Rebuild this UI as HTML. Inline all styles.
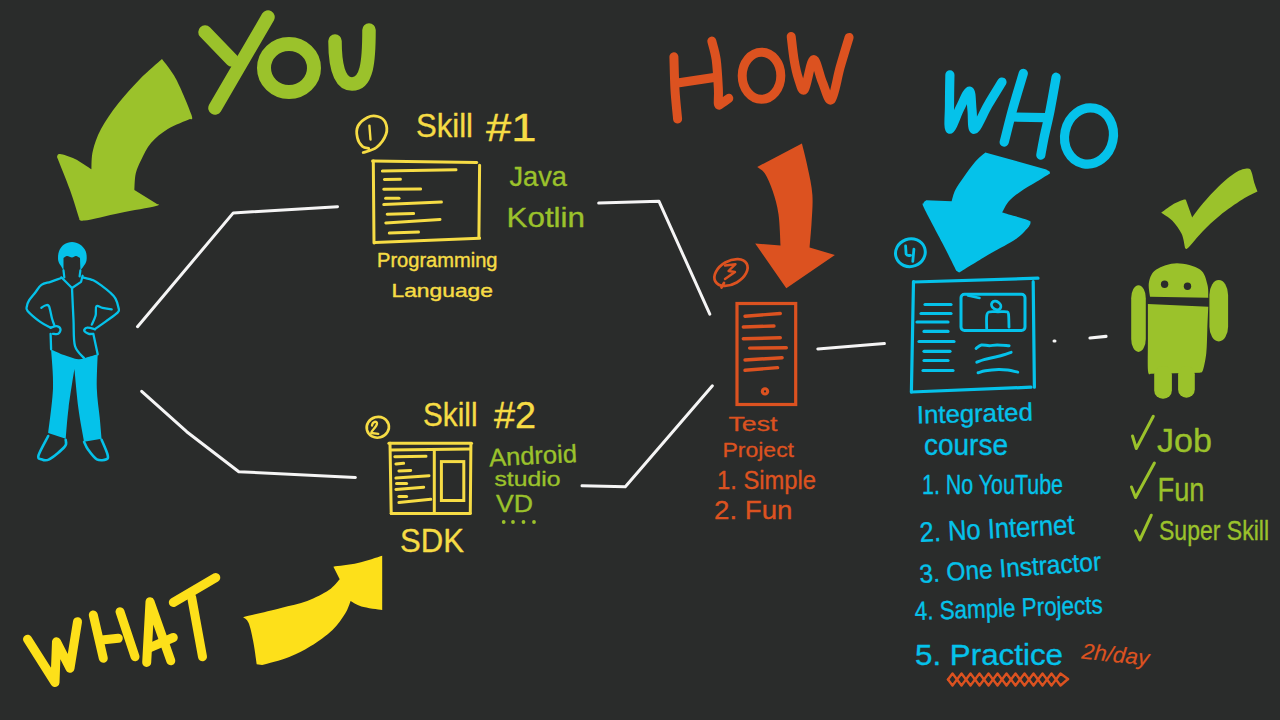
<!DOCTYPE html>
<html><head><meta charset="utf-8"><style>
html,body{margin:0;padding:0;background:#2a2c2b;width:1280px;height:720px;overflow:hidden}
svg{display:block}
text{font-family:"Liberation Sans",sans-serif}
</style></head><body>
<svg width="1280" height="720" viewBox="0 0 1280 720">
<rect width="1280" height="720" fill="#2a2c2b"/>
<path d="M137.5,326.7 L233.3,212.9 L337.5,206.7" fill="none" stroke="#f5f5f5" stroke-width="3" stroke-linecap="round" stroke-linejoin="round" />
<path d="M141.7,391.3 L186.7,431.7 L238.8,471.7 L355.4,477.5" fill="none" stroke="#f5f5f5" stroke-width="3" stroke-linecap="round" stroke-linejoin="round" />
<path d="M598.7,203.1 L659,201.3 L709.8,314.2" fill="none" stroke="#f5f5f5" stroke-width="3" stroke-linecap="round" stroke-linejoin="round" />
<path d="M582,485.8 L625.3,486.7 L712.4,385.8" fill="none" stroke="#f5f5f5" stroke-width="3" stroke-linecap="round" stroke-linejoin="round" />
<path d="M817.8,348.9 L884.4,343.6" fill="none" stroke="#f5f5f5" stroke-width="3" stroke-linecap="round" stroke-linejoin="round" />
<path d="M1054,341 L1055,341" fill="none" stroke="#f5f5f5" stroke-width="3" stroke-linecap="round" stroke-linejoin="round" />
<path d="M1090,338 L1106,336.4" fill="none" stroke="#f5f5f5" stroke-width="3.2" stroke-linecap="round" stroke-linejoin="round" />
<path d="M162,59 C164.3,62.3 171.1,69.7 176.0,79.0 C180.9,88.3 189.2,108.3 191.5,115.0 C193.8,121.7 190.2,118.3 190.0,119.0 C186.3,120.7 174.3,125.0 167.8,129.0 C161.3,133.0 155.4,137.9 151.0,143.0 C146.6,148.1 143.9,154.3 141.4,159.4 C138.9,164.5 137.0,168.2 135.8,173.3 C134.6,178.4 134.6,187.2 134.4,190.0 L157,204 C156.8,204.3 162.2,204.5 156.0,206.0 C149.8,207.5 131.9,210.6 120.0,213.0 C108.1,215.4 91.2,219.8 84.4,220.6 C77.6,221.4 79.9,218.4 79.0,218.0 C77.5,213.3 73.7,200.2 70.0,190.0 C66.3,179.8 59.2,162.5 57.0,157.0 C57.5,156.5 57.0,153.7 60.0,154.0 C63.0,154.3 69.8,156.5 75.0,159.0 C80.2,161.5 88.7,167.5 91.4,169.2 C91.6,166.2 91.2,157.7 92.8,151.0 C94.4,144.3 96.8,136.8 101.0,129.0 C105.2,121.2 111.3,112.3 117.8,104.0 C124.3,95.7 132.6,86.5 140.0,79.0 C147.4,71.5 158.3,62.3 162.0,59.0 Z" fill="#9bc22b" />
<path d="M205,32 L232,60" fill="none" stroke="#9bc22b" stroke-width="13.5" stroke-linecap="round" stroke-linejoin="round" />
<path d="M268,17 L215,108" fill="none" stroke="#9bc22b" stroke-width="13.5" stroke-linecap="round" stroke-linejoin="round" />
<ellipse cx="289" cy="68" rx="25" ry="24" fill="none" stroke="#9bc22b" stroke-width="14"/>
<path d="M335,41 C335,62 338,84 352,84 C367,84 369,62 369,30" fill="none" stroke="#9bc22b" stroke-width="13.5" stroke-linecap="round" stroke-linejoin="round" />
<path d="M27.5,639.2 L55,682.5 L56.5,641.7 L70,668.3 L77.5,621.7" fill="none" stroke="#fde01a" stroke-width="9" stroke-linecap="round" stroke-linejoin="round" />
<path d="M93.3,615 L103.3,658.3" fill="none" stroke="#fde01a" stroke-width="9" stroke-linecap="round" stroke-linejoin="round" />
<path d="M101.7,640 L118.3,638.3" fill="none" stroke="#fde01a" stroke-width="9" stroke-linecap="round" stroke-linejoin="round" />
<path d="M120,611.7 L135,656.7" fill="none" stroke="#fde01a" stroke-width="9" stroke-linecap="round" stroke-linejoin="round" />
<path d="M146.7,662.5 L150,601.7 L170.8,660.8" fill="none" stroke="#fde01a" stroke-width="9" stroke-linecap="round" stroke-linejoin="round" />
<path d="M148.3,648.3 L173.3,637.5" fill="none" stroke="#fde01a" stroke-width="9" stroke-linecap="round" stroke-linejoin="round" />
<path d="M173.3,602.5 L215.8,577.5" fill="none" stroke="#fde01a" stroke-width="9" stroke-linecap="round" stroke-linejoin="round" />
<path d="M191.7,597.5 L202.5,656.7" fill="none" stroke="#fde01a" stroke-width="9" stroke-linecap="round" stroke-linejoin="round" />
<path d="M243.1,617.2 C244.0,618.1 246.8,618.8 248.5,622.7 C250.2,626.6 251.7,633.8 253.1,640.7 C254.5,647.6 256.1,660.3 256.7,664.2 L262.1,665.1 C266.6,663.8 281.1,660.2 289.2,657.0 C297.3,653.8 303.6,650.6 310.8,646.1 C318.0,641.6 326.8,635.3 332.5,629.9 C338.2,624.5 342.2,618.4 345.2,613.6 C348.2,608.8 349.7,603.1 350.6,601.0 C352.4,601.9 356.1,604.9 361.4,606.4 C366.7,607.9 378.7,609.4 382.2,610.0 L382.2,555.8 C378.1,557.0 365.9,561.3 357.8,563.1 C349.7,564.9 337.5,566.1 333.4,566.7 L339.7,579.3 C337.9,581.1 334.3,586.5 328.9,590.1 C323.5,593.7 315.3,598.0 307.2,601.0 C299.1,604.0 290.8,605.5 280.1,608.2 C269.4,610.9 249.3,615.7 243.1,617.2 Z" fill="#fde01a" />
<path d="M673.9,56.7 C674.1,62.2 674.4,79.6 675.0,90.0 C675.6,100.4 677.2,114.2 677.6,119.1" fill="none" stroke="#dc5220" stroke-width="9" stroke-linecap="round" stroke-linejoin="round" />
<path d="M679.1,82.7 L714,77.5" fill="none" stroke="#dc5220" stroke-width="9" stroke-linecap="round" stroke-linejoin="round" />
<path d="M711.8,41.1 C712.5,44.2 715.1,51.7 716.2,59.7 C717.3,67.8 718.0,82.0 718.4,89.4 C718.8,96.8 717.8,101.9 718.4,104.2 C719.0,106.5 720.3,104.0 722.0,103.0 C723.7,102.0 727.7,99.1 728.8,98.3" fill="none" stroke="#dc5220" stroke-width="9" stroke-linecap="round" stroke-linejoin="round" />
<ellipse cx="761.5" cy="75.7" rx="19.3" ry="23.5" fill="none" stroke="#dc5220" stroke-width="9"/>
<path d="M791.2,36.5 C791.7,40.4 792.9,52.6 794.1,59.7 C795.3,66.8 796.9,74.0 798.6,79.0 C800.3,84.0 802.0,92.6 804.5,89.4 C807.0,86.2 810.4,60.9 813.4,59.7 C816.4,58.5 819.3,75.3 822.3,82.0 C825.3,88.7 828.2,102.3 831.2,99.8 C834.2,97.3 837.2,77.5 840.2,67.1 C843.2,56.7 847.6,42.3 849.1,37.4" fill="none" stroke="#dc5220" stroke-width="9" stroke-linecap="round" stroke-linejoin="round" />
<path d="M757.2,166.9 L801.9,143.6 C802.9,147.6 806.0,159.1 807.7,167.7 C809.5,176.2 811.8,185.8 812.4,194.9 C813.0,204.0 812.1,213.3 811.6,222.1 C811.1,230.8 809.9,243.2 809.6,247.4 L834.9,255.1 L786.3,288.2 L755.2,243.5 L780.5,245.4 C780.2,240.2 779.8,223.4 778.5,214.3 C777.2,205.2 775.0,197.8 772.7,191.0 C770.4,184.2 767.5,177.5 764.9,173.5 C762.3,169.5 758.5,168.0 757.2,166.9 Z" fill="#dc5220" />
<path d="M949.9,74.9 C949.8,79.9 949.5,96.0 949.5,105.0 C949.5,114.0 948.1,128.7 949.9,129.2 C951.6,129.7 956.7,114.4 960.0,108.0 C963.3,101.6 967.5,90.7 969.5,91.0 C971.5,91.3 971.2,103.6 972.0,110.0 C972.8,116.4 971.7,130.0 974.4,129.2 C977.1,128.4 983.4,112.9 988.0,105.0 C992.6,97.1 999.7,85.8 1002.0,82.0" fill="none" stroke="#05c2ea" stroke-width="9.2" stroke-linecap="round" stroke-linejoin="round" />
<path d="M1023.3,73.4 C1021.6,79.2 1016.2,96.5 1013.0,108.0 C1009.8,119.5 1005.7,136.4 1004.2,142.1" fill="none" stroke="#05c2ea" stroke-width="9.2" stroke-linecap="round" stroke-linejoin="round" />
<path d="M1011.8,117 L1045.4,117.7" fill="none" stroke="#05c2ea" stroke-width="9.2" stroke-linecap="round" stroke-linejoin="round" />
<path d="M1056.1,77.2 C1055.1,82.8 1052.0,100.6 1050.0,110.8 C1048.0,121.0 1045.4,130.9 1043.9,138.3 C1042.4,145.7 1041.3,152.3 1040.8,155.1" fill="none" stroke="#05c2ea" stroke-width="9.2" stroke-linecap="round" stroke-linejoin="round" />
<ellipse cx="1089" cy="136" rx="24.3" ry="28.3" fill="none" stroke="#05c2ea" stroke-width="9.2" transform="rotate(12 1089 136)"/>
<path d="M985.3,152.5 L1046.3,169.4 C1046.8,169.8 1048.9,170.8 1049.5,171.5 C1050.1,172.2 1049.9,173.2 1050.0,173.5 C1047.8,174.8 1041.9,178.5 1036.9,181.6 C1031.9,184.7 1024.7,188.6 1020.0,191.9 C1015.3,195.2 1011.8,197.9 1008.8,201.3 C1005.8,204.7 1003.3,210.6 1002.2,212.5 C1006.4,213.8 1022.8,218.2 1027.5,220.0 C1032.2,221.8 1030.2,221.9 1030.4,223.0 C1030.7,224.1 1029.2,225.9 1029.0,226.5 C1026.9,228.6 1022.8,234.2 1016.3,238.8 C1009.8,243.4 999.5,248.2 990.0,253.8 C980.5,259.4 964.2,269.5 959.1,272.6 L956.3,270.7 C954.1,266.3 948.4,254.7 943.1,244.4 C937.8,234.1 927.7,215.7 924.4,208.8 C921.1,201.9 923.1,204.6 923.4,203.2 C923.7,201.8 925.8,200.8 926.3,200.3 L951.6,201.3 C952.2,199.4 953.3,194.1 955.3,190.0 C957.3,185.9 960.5,181.6 963.8,176.9 C967.1,172.2 971.4,166.0 975.0,161.9 C978.6,157.8 983.6,154.1 985.3,152.5 Z" fill="#05c2ea" />
<path d="M1161.2,212.7 C1163.1,211.4 1168.6,207.0 1172.4,204.8 C1176.2,202.6 1182.0,200.2 1184.3,199.6 C1186.6,199.0 1186.0,200.8 1186.3,201.0 L1192.2,217.4 C1194.0,215.1 1198.4,208.7 1202.8,203.5 C1207.2,198.3 1213.1,191.6 1218.6,186.4 C1224.1,181.2 1230.9,175.5 1235.7,172.5 C1240.5,169.5 1245.0,168.7 1247.6,168.6 C1250.2,168.5 1250.4,169.6 1251.5,171.9 C1252.6,174.2 1253.2,179.1 1254.2,182.4 C1255.2,185.7 1257.0,190.1 1257.5,191.6 C1255.0,192.9 1248.6,195.6 1242.3,199.6 C1236.0,203.6 1226.5,210.1 1219.9,215.4 C1213.3,220.7 1208.1,225.8 1202.8,231.2 C1197.5,236.6 1191.2,244.9 1188.2,247.7 C1185.2,250.4 1185.5,247.7 1185.0,247.7 C1184.4,245.4 1183.7,238.3 1181.6,233.8 C1179.5,229.3 1175.8,224.2 1172.4,220.7 C1169.0,217.2 1163.1,214.0 1161.2,212.7 Z" fill="#9bc22b" />
<path d="M1150,296.7 C1149.8,294.2 1148.0,286.5 1149.0,282.0 C1150.0,277.5 1151.6,272.7 1156.3,269.6 C1161.0,266.5 1169.7,263.3 1177.0,263.3 C1184.3,263.3 1195.0,266.1 1200.0,269.6 C1205.0,273.1 1205.9,279.5 1207.3,284.2 C1208.7,288.9 1208.1,295.4 1208.3,297.7 L1150,296.7 Z" fill="#9bc22b" />
<circle cx="1164.6" cy="284.2" r="3.7" fill="#2a2c2b"/><circle cx="1187.5" cy="286.3" r="3.7" fill="#2a2c2b"/>
<path d="M1147.9,304 L1208.3,306.7 C1208.1,310.6 1207.6,322.3 1207.3,330.0 C1207.0,337.7 1207.0,346.2 1206.3,352.9 C1205.6,359.6 1204.0,366.7 1203.0,370.0 C1202.0,373.3 1200.5,372.2 1200.0,372.7 L1151,373.7 C1150.5,373.2 1148.5,376.6 1148.0,371.0 C1147.5,365.4 1147.9,351.2 1147.9,340.0 C1147.9,328.8 1147.9,310.0 1147.9,304.0 Z" fill="#9bc22b" />
<rect x="1154.2" y="366" width="17.7" height="32.8" rx="8.5" fill="#9bc22b"/>
<rect x="1178.1" y="366" width="16.7" height="31.7" rx="8.3" fill="#9bc22b"/>
<rect x="1131.2" y="285.2" width="14.6" height="66.7" rx="7.3" ry="13" fill="#9bc22b"/>
<rect x="1209.4" y="280" width="18.7" height="61.5" rx="9.3" ry="15" fill="#9bc22b"/>
<path d="M372.6,161.1 L476.8,162.5" fill="none" stroke="#f6dc45" stroke-width="3" stroke-linecap="round" stroke-linejoin="round" />
<path d="M373.3,161.1 L374,243" fill="none" stroke="#f6dc45" stroke-width="3" stroke-linecap="round" stroke-linejoin="round" />
<path d="M479.6,165.3 L478.9,237.5" fill="none" stroke="#f6dc45" stroke-width="3" stroke-linecap="round" stroke-linejoin="round" />
<path d="M374.7,242.4 L479.6,238.2" fill="none" stroke="#f6dc45" stroke-width="3" stroke-linecap="round" stroke-linejoin="round" />
<path d="M382.4,171.1 L456,169.7" fill="none" stroke="#f6dc45" stroke-width="3" stroke-linecap="round" stroke-linejoin="round" />
<path d="M384.4,179.4 L400.4,179.2" fill="none" stroke="#f6dc45" stroke-width="3" stroke-linecap="round" stroke-linejoin="round" />
<path d="M383.75,189.3 L420.6,188.9" fill="none" stroke="#f6dc45" stroke-width="3" stroke-linecap="round" stroke-linejoin="round" />
<path d="M385.6,198.3 L399,198.3" fill="none" stroke="#f6dc45" stroke-width="3" stroke-linecap="round" stroke-linejoin="round" />
<path d="M383.75,204.6 L441.4,202.1" fill="none" stroke="#f6dc45" stroke-width="3" stroke-linecap="round" stroke-linejoin="round" />
<path d="M387.2,214.2 L413.6,213.5" fill="none" stroke="#f6dc45" stroke-width="3" stroke-linecap="round" stroke-linejoin="round" />
<path d="M385.8,222.9 L440,219.4" fill="none" stroke="#f6dc45" stroke-width="3" stroke-linecap="round" stroke-linejoin="round" />
<path d="M389.3,233.1 L418.5,232" fill="none" stroke="#f6dc45" stroke-width="3" stroke-linecap="round" stroke-linejoin="round" />
<path d="M363.2,152.5 C365.4,151.7 372.6,150.5 376.4,147.5 C380.2,144.5 384.5,138.6 386.0,134.3 C387.5,130.1 386.6,125.0 385.2,122.0 C383.8,119.0 380.8,117.3 377.8,116.5 C374.8,115.7 370.7,115.8 367.4,117.4 C364.1,119.0 359.7,122.6 358.0,126.0 C356.3,129.4 356.6,134.4 357.4,137.8 C358.1,141.2 360.6,144.8 362.5,146.5 C364.4,148.2 367.7,148.0 368.7,148.3" fill="none" stroke="#f6dc45" stroke-width="2.8" stroke-linecap="round" stroke-linejoin="round" />
<path d="M369.4,125.6 L370.5,139.5" fill="none" stroke="#f6dc45" stroke-width="2.4" stroke-linecap="round" stroke-linejoin="round" />
<path d="M388.9,443.3 L471.5,443.3" fill="none" stroke="#f6dc45" stroke-width="3" stroke-linecap="round" stroke-linejoin="round" />
<path d="M390.6,450.1 L469.7,448.9" fill="none" stroke="#f6dc45" stroke-width="3" stroke-linecap="round" stroke-linejoin="round" />
<path d="M390,443.3 L391.2,513.5" fill="none" stroke="#f6dc45" stroke-width="3" stroke-linecap="round" stroke-linejoin="round" />
<path d="M470.9,443.9 L470.3,512.9" fill="none" stroke="#f6dc45" stroke-width="3" stroke-linecap="round" stroke-linejoin="round" />
<path d="M391.2,513.5 L470.3,513.5" fill="none" stroke="#f6dc45" stroke-width="3" stroke-linecap="round" stroke-linejoin="round" />
<path d="M434.3,450.3 L434.3,511.7" fill="none" stroke="#f6dc45" stroke-width="3" stroke-linecap="round" stroke-linejoin="round" />
<rect x="441.4" y="461.6" width="22.4" height="38.9" fill="none" stroke="#f6dc45" stroke-width="3"/>
<path d="M394.8,456.8 L426,456.3" fill="none" stroke="#f6dc45" stroke-width="3" stroke-linecap="round" stroke-linejoin="round" />
<path d="M395.9,463.9 L403.6,463.3" fill="none" stroke="#f6dc45" stroke-width="3" stroke-linecap="round" stroke-linejoin="round" />
<path d="M398.9,471 L410.7,470.4" fill="none" stroke="#f6dc45" stroke-width="3" stroke-linecap="round" stroke-linejoin="round" />
<path d="M395.9,478.1 L429,475.7" fill="none" stroke="#f6dc45" stroke-width="3" stroke-linecap="round" stroke-linejoin="round" />
<path d="M396.5,483.4 L406.6,483.4" fill="none" stroke="#f6dc45" stroke-width="3" stroke-linecap="round" stroke-linejoin="round" />
<path d="M395.9,489.5 L423.7,487.2" fill="none" stroke="#f6dc45" stroke-width="3" stroke-linecap="round" stroke-linejoin="round" />
<path d="M398.9,496.4 L406.6,496.4" fill="none" stroke="#f6dc45" stroke-width="3" stroke-linecap="round" stroke-linejoin="round" />
<path d="M398.9,502.5 L430.8,499.3" fill="none" stroke="#f6dc45" stroke-width="3" stroke-linecap="round" stroke-linejoin="round" />
<ellipse cx="377.8" cy="427.3" rx="11.2" ry="10.3" fill="none" stroke="#f6dc45" stroke-width="2.6" transform="rotate(-15 377.8 427.3)"/>
<path d="M372,425.5 C372.5,421.5 377,420.5 377,423.5 C377,427 371.5,430 371.2,433 L378.3,433.8" fill="none" stroke="#f6dc45" stroke-width="2.3" stroke-linecap="round" stroke-linejoin="round" />
<rect x="737" y="303.5" width="58.7" height="101" fill="none" stroke="#dc5220" stroke-width="3.2"/>
<path d="M745,316.2 L780.3,313.5" fill="none" stroke="#dc5220" stroke-width="3.4" stroke-linecap="round" stroke-linejoin="round" />
<path d="M743.3,327 L774,326" fill="none" stroke="#dc5220" stroke-width="3.4" stroke-linecap="round" stroke-linejoin="round" />
<path d="M743.3,338.7 L780.3,337.8" fill="none" stroke="#dc5220" stroke-width="3.4" stroke-linecap="round" stroke-linejoin="round" />
<path d="M749.6,348.1 L786.3,347.8" fill="none" stroke="#dc5220" stroke-width="3.4" stroke-linecap="round" stroke-linejoin="round" />
<path d="M745,360 L782.1,357.7" fill="none" stroke="#dc5220" stroke-width="3.4" stroke-linecap="round" stroke-linejoin="round" />
<path d="M745,370.3 L777.6,367.6" fill="none" stroke="#dc5220" stroke-width="3.4" stroke-linecap="round" stroke-linejoin="round" />
<circle cx="765" cy="391.4" r="4.2" fill="#dc5220"/><circle cx="765" cy="391.4" r="1.1" fill="#2a2c2b"/>
<ellipse cx="731" cy="272.5" rx="18" ry="11.5" fill="none" stroke="#dc5220" stroke-width="2.7" transform="rotate(-30 731 272.5)"/>
<path d="M721.5,287.5 L724,283" fill="none" stroke="#dc5220" stroke-width="2.7" stroke-linecap="round" stroke-linejoin="round" />
<path d="M725,265.5 L735.5,264.2 L728.5,271 L735,272 L725,279" fill="none" stroke="#dc5220" stroke-width="2.4" stroke-linecap="round" stroke-linejoin="round" />
<path d="M913.5,282 L1038,278.2" fill="none" stroke="#05c2ea" stroke-width="3.2" stroke-linecap="round" stroke-linejoin="round" />
<path d="M1033.2,281.7 L1034.4,387.2" fill="none" stroke="#05c2ea" stroke-width="3.2" stroke-linecap="round" stroke-linejoin="round" />
<path d="M911.4,392 L1031,387.2" fill="none" stroke="#05c2ea" stroke-width="3.2" stroke-linecap="round" stroke-linejoin="round" />
<path d="M913.5,281.5 L911.4,392" fill="none" stroke="#05c2ea" stroke-width="3.2" stroke-linecap="round" stroke-linejoin="round" />
<path d="M925,304.5 L951,304.5" fill="none" stroke="#05c2ea" stroke-width="3.2" stroke-linecap="round" stroke-linejoin="round" />
<path d="M921,313.5 L951,313.5" fill="none" stroke="#05c2ea" stroke-width="3.2" stroke-linecap="round" stroke-linejoin="round" />
<path d="M917,322 L948,322" fill="none" stroke="#05c2ea" stroke-width="3.2" stroke-linecap="round" stroke-linejoin="round" />
<path d="M924,331.4 L948,331.4" fill="none" stroke="#05c2ea" stroke-width="3.2" stroke-linecap="round" stroke-linejoin="round" />
<path d="M919,341.5 L954,341.5" fill="none" stroke="#05c2ea" stroke-width="3.2" stroke-linecap="round" stroke-linejoin="round" />
<path d="M924,351.3 L950,351.3" fill="none" stroke="#05c2ea" stroke-width="3.2" stroke-linecap="round" stroke-linejoin="round" />
<path d="M924,360.5 L948,360.5" fill="none" stroke="#05c2ea" stroke-width="3.2" stroke-linecap="round" stroke-linejoin="round" />
<path d="M923,370.5 L953,370.5" fill="none" stroke="#05c2ea" stroke-width="3.2" stroke-linecap="round" stroke-linejoin="round" />
<rect x="961" y="294.3" width="64" height="36.2" rx="3.5" fill="none" stroke="#05c2ea" stroke-width="3"/>
<path d="M968,295.5 L979.5,298" fill="none" stroke="#05c2ea" stroke-width="2.6" stroke-linecap="round" stroke-linejoin="round" />
<ellipse cx="996.2" cy="305.5" rx="5" ry="3.9" fill="none" stroke="#05c2ea" stroke-width="2.8" transform="rotate(35 996.2 305.5)"/>
<path d="M986.7,328.6 C986.7,326.5 986.3,318.8 986.7,316.0 C987.1,313.2 987.1,312.7 989.0,312.0 C990.9,311.3 995.1,311.8 998.0,311.8 C1000.9,311.8 1004.8,311.4 1006.5,311.8 C1008.2,312.2 1008.1,311.4 1008.5,314.0 C1008.9,316.6 1008.9,325.0 1009.0,327.2" fill="none" stroke="#05c2ea" stroke-width="2.8" stroke-linecap="round" stroke-linejoin="round" />
<path d="M976.1,348.4 C977.0,347.8 979.2,345.4 981.4,345.0 C983.6,344.6 986.7,345.7 989.3,345.7 C991.9,345.7 993.9,345.0 997.2,345.0 C1000.5,345.0 1007.1,345.6 1009.1,345.7" fill="none" stroke="#05c2ea" stroke-width="3" stroke-linecap="round" stroke-linejoin="round" />
<path d="M976.8,362.2 C978.0,361.8 980.4,360.6 984.0,359.6 C987.6,358.6 994.1,357.5 998.6,356.3 C1003.1,355.1 1009.0,353.0 1011.1,352.3" fill="none" stroke="#05c2ea" stroke-width="3" stroke-linecap="round" stroke-linejoin="round" />
<path d="M978.1,372.8 C979.3,372.5 982.0,371.4 985.4,370.8 C988.8,370.2 994.9,369.6 998.6,369.5 C1002.3,369.4 1004.6,369.7 1007.8,370.1 C1011.0,370.5 1016.1,371.8 1017.7,372.1" fill="none" stroke="#05c2ea" stroke-width="3" stroke-linecap="round" stroke-linejoin="round" />
<ellipse cx="910.4" cy="252.7" rx="15" ry="13.8" fill="none" stroke="#05c2ea" stroke-width="3" transform="rotate(-20 910.4 252.7)"/>
<path d="M905.6,246 L906.1,254 Q907,256 910.5,255.3 M913.9,249.2 L912.8,261.4" fill="none" stroke="#05c2ea" stroke-width="2.8" stroke-linecap="round" stroke-linejoin="round" />
<path d="M51.1,349.4 C53.2,350.3 59.5,353.4 64.0,355.0 C68.5,356.6 74.3,358.9 78.3,359.2 C82.3,359.5 84.8,357.8 88.0,357.0 C91.2,356.2 96.1,354.8 97.7,354.3 C97.5,360.0 96.5,377.8 96.8,388.3 C97.1,398.8 98.9,409.1 99.7,417.5 C100.5,425.9 101.3,435.2 101.6,438.8 L84.1,441.8 C83.1,436.1 79.9,419.9 78.3,407.7 C76.7,395.5 75.1,375.4 74.4,368.9 C73.4,375.4 70.0,396.0 68.6,407.7 C67.1,419.4 66.2,433.6 65.7,438.8 L48.2,433 C49.0,425.6 52.5,402.2 53.0,388.3 C53.5,374.4 51.4,355.9 51.1,349.4 Z" fill="#05c2ea" />
<path d="M48.2,436 C46.6,439.2 39.6,451.5 38.5,455.4 C37.4,459.3 39.6,458.6 41.4,459.3 C43.2,460.0 45.3,461.4 49.2,459.3 C53.1,457.2 62.0,449.9 64.7,446.6 C67.5,443.4 65.5,440.9 65.7,439.8" fill="none" stroke="#05c2ea" stroke-width="2.6" stroke-linecap="round" stroke-linejoin="round" />
<path d="M84.1,441.8 C84.8,443.1 85.9,446.6 88.0,449.5 C90.1,452.4 93.7,457.7 96.8,459.3 C99.9,460.9 104.7,460.1 106.5,459.3 C108.3,458.5 108.3,457.6 107.5,454.4 C106.7,451.1 102.6,442.2 101.6,439.8" fill="none" stroke="#05c2ea" stroke-width="2.6" stroke-linecap="round" stroke-linejoin="round" />
<path d="M63.5,270.4 C63.1,269.8 62.2,268.3 61.3,266.6 C60.4,264.9 58.6,262.9 58.2,260.4 C57.8,257.8 58.0,254.0 59.0,251.3 C60.0,248.7 61.8,246.0 64.0,244.5 C66.2,243.0 69.3,242.1 72.0,242.1 C74.7,242.1 77.7,243.0 80.0,244.5 C82.3,246.0 84.6,248.7 85.7,251.3 C86.8,254.0 86.9,257.8 86.5,260.4 C86.1,262.9 84.4,264.9 83.4,266.6 C82.4,268.3 80.9,269.8 80.4,270.4 L80,258 C79.3,257.7 77.3,256.1 76.0,256.0 C74.7,255.9 73.5,257.5 72.0,257.5 C70.5,257.5 68.4,255.9 67.0,256.0 C65.6,256.1 64.1,257.7 63.5,258.0 L63.5,270.4 Z" fill="#05c2ea" />
<path d="M63.5,270.4 L64.3,277.3" fill="none" stroke="#05c2ea" stroke-width="2.2" stroke-linecap="round" stroke-linejoin="round" />
<path d="M80.4,270.4 L79.6,276.5" fill="none" stroke="#05c2ea" stroke-width="2.2" stroke-linecap="round" stroke-linejoin="round" />
<path d="M61.3,277.3 L65.8,281.8 L72,288" fill="none" stroke="#05c2ea" stroke-width="2.2" stroke-linecap="round" stroke-linejoin="round" />
<path d="M82.6,275.7 L81.1,281.8 L72,288" fill="none" stroke="#05c2ea" stroke-width="2.2" stroke-linecap="round" stroke-linejoin="round" />
<path d="M61.3,278 C59.5,278.6 53.9,280.7 50.6,281.8 C47.3,282.9 44.0,283.1 41.4,284.9 C38.8,286.7 37.3,289.9 35.3,292.5 C33.3,295.1 30.6,297.9 29.2,300.2 C27.8,302.5 27.2,304.5 26.9,306.3 C26.6,308.1 25.4,308.3 27.6,310.9 C29.8,313.4 36.1,318.8 39.9,321.6 C43.7,324.4 48.8,326.7 50.6,327.7" fill="none" stroke="#05c2ea" stroke-width="2.3" stroke-linecap="round" stroke-linejoin="round" />
<path d="M50.6,327.7 C51.6,327.4 55.1,325.9 56.7,326.1 C58.4,326.4 60.2,327.9 60.5,329.2 C60.8,330.5 59.5,333.0 58.2,333.8 C56.9,334.6 53.7,333.8 52.8,333.8" fill="none" stroke="#05c2ea" stroke-width="2.3" stroke-linecap="round" stroke-linejoin="round" />
<path d="M41.4,307.8 C42.0,307.4 43.9,305.8 45.2,305.5 C46.5,305.2 47.9,304.1 49.0,306.3 C50.1,308.5 51.1,315.3 52.0,318.5 C52.9,321.7 54.0,324.2 54.4,325.4" fill="none" stroke="#05c2ea" stroke-width="2.3" stroke-linecap="round" stroke-linejoin="round" />
<path d="M82.6,277.3 C84.4,277.8 90.0,278.8 93.3,280.3 C96.6,281.8 99.7,284.4 102.5,286.4 C105.3,288.4 107.9,290.5 110.1,292.5 C112.3,294.5 114.1,296.1 115.5,298.6 C116.9,301.2 118.1,305.5 118.5,307.8 C118.9,310.1 120.0,310.1 117.8,312.4 C115.6,314.7 109.4,318.8 105.6,321.6 C101.8,324.4 96.7,327.9 94.9,329.2" fill="none" stroke="#05c2ea" stroke-width="2.3" stroke-linecap="round" stroke-linejoin="round" />
<path d="M94.9,329.2 C93.6,328.9 89.0,327.4 87.2,327.7 C85.4,327.9 83.9,329.7 84.2,330.7 C84.5,331.7 87.3,333.3 88.8,333.8 C90.3,334.3 92.3,333.8 93.0,333.8" fill="none" stroke="#05c2ea" stroke-width="2.3" stroke-linecap="round" stroke-linejoin="round" />
<path d="M111.7,309.3 C110.2,309.1 105.0,308.3 102.5,307.8 C100.0,307.3 97.6,305.0 96.4,306.3 C95.2,307.6 96.4,312.4 95.6,315.5 C94.8,318.6 92.4,323.1 91.8,324.6" fill="none" stroke="#05c2ea" stroke-width="2.3" stroke-linecap="round" stroke-linejoin="round" />
<path d="M50.6,333.8 L51.1,349.4" fill="none" stroke="#05c2ea" stroke-width="2.3" stroke-linecap="round" stroke-linejoin="round" />
<path d="M93.3,333.8 L97.7,354.3" fill="none" stroke="#05c2ea" stroke-width="2.3" stroke-linecap="round" stroke-linejoin="round" />
<path d="M72,288 C72.2,293.3 73.0,310.3 73.5,320.0 C74.0,329.7 73.2,339.7 75.0,346.0 C76.8,352.3 82.5,356.0 84.0,358.0" fill="none" stroke="#05c2ea" stroke-width="2.3" stroke-linecap="round" stroke-linejoin="round" />
<text x="416" y="137" font-size="34" fill="#f6dc45" stroke="#f6dc45" stroke-width="0.35" stroke-linejoin="round" textLength="57" lengthAdjust="spacingAndGlyphs" font-weight="normal" >Skill</text>
<text x="486" y="140.5" font-size="39" fill="#f6dc45" stroke="#f6dc45" stroke-width="0.35" stroke-linejoin="round" textLength="50.5" lengthAdjust="spacingAndGlyphs" font-weight="normal" >#1</text>
<text x="509.5" y="186" font-size="28" fill="#9bc22b" stroke="#9bc22b" stroke-width="0.35" stroke-linejoin="round" textLength="57.5" lengthAdjust="spacingAndGlyphs" font-weight="normal" >Java</text>
<text x="506.5" y="226.5" font-size="28" fill="#9bc22b" stroke="#9bc22b" stroke-width="0.35" stroke-linejoin="round" textLength="78.5" lengthAdjust="spacingAndGlyphs" font-weight="normal" >Kotlin</text>
<text x="377" y="266.5" font-size="19.5" fill="#f6dc45" stroke="#f6dc45" stroke-width="0.4" stroke-linejoin="round" textLength="120.5" lengthAdjust="spacingAndGlyphs" font-weight="normal" >Programming</text>
<text x="391.5" y="297" font-size="18.5" fill="#f6dc45" stroke="#f6dc45" stroke-width="0.4" stroke-linejoin="round" textLength="101.5" lengthAdjust="spacingAndGlyphs" font-weight="normal" >Language</text>
<text x="423" y="426" font-size="34" fill="#f6dc45" stroke="#f6dc45" stroke-width="0.35" stroke-linejoin="round" textLength="54.5" lengthAdjust="spacingAndGlyphs" font-weight="normal" >Skill</text>
<text x="494" y="428" font-size="36" fill="#f6dc45" stroke="#f6dc45" stroke-width="0.35" stroke-linejoin="round" textLength="42" lengthAdjust="spacingAndGlyphs" font-weight="normal" >#2</text>
<text x="489.5" y="466.5" font-size="25" fill="#9bc22b" stroke="#9bc22b" stroke-width="0.35" stroke-linejoin="round" textLength="88.0" lengthAdjust="spacingAndGlyphs" font-weight="normal" transform="rotate(-3 489.5 466.5)" >Android</text>
<text x="494.5" y="485.5" font-size="21" fill="#9bc22b" stroke="#9bc22b" stroke-width="0.35" stroke-linejoin="round" textLength="66.0" lengthAdjust="spacingAndGlyphs" font-weight="normal" >studio</text>
<text x="496" y="512" font-size="23" fill="#9bc22b" stroke="#9bc22b" stroke-width="0.35" stroke-linejoin="round" textLength="37" lengthAdjust="spacingAndGlyphs" font-weight="normal" >VD</text>
<circle cx="503.7" cy="522" r="1.9" fill="#9bc22b"/>
<circle cx="513" cy="522" r="1.9" fill="#9bc22b"/>
<circle cx="523.5" cy="522" r="1.9" fill="#9bc22b"/>
<circle cx="534" cy="522" r="1.9" fill="#9bc22b"/>
<text x="400" y="552" font-size="34" fill="#f6dc45" stroke="#f6dc45" stroke-width="0.35" stroke-linejoin="round" textLength="64" lengthAdjust="spacingAndGlyphs" font-weight="normal" >SDK</text>
<text x="728.5" y="431" font-size="21" fill="#dc5220" stroke="#dc5220" stroke-width="0.3" stroke-linejoin="round" textLength="49.0" lengthAdjust="spacingAndGlyphs" font-weight="normal" >Test</text>
<text x="722.5" y="457" font-size="21" fill="#dc5220" stroke="#dc5220" stroke-width="0.3" stroke-linejoin="round" textLength="71.5" lengthAdjust="spacingAndGlyphs" font-weight="normal" >Project</text>
<text x="717" y="488.5" font-size="26" fill="#dc5220" stroke="#dc5220" stroke-width="0.35" stroke-linejoin="round" textLength="99" lengthAdjust="spacingAndGlyphs" font-weight="normal" >1. Simple</text>
<text x="714" y="518.5" font-size="26" fill="#dc5220" stroke="#dc5220" stroke-width="0.35" stroke-linejoin="round" textLength="78.5" lengthAdjust="spacingAndGlyphs" font-weight="normal" >2. Fun</text>
<text x="917" y="423.5" font-size="25" fill="#05c2ea" stroke="#05c2ea" stroke-width="0.35" stroke-linejoin="round" textLength="116" lengthAdjust="spacingAndGlyphs" font-weight="normal" transform="rotate(-1.5 917 423.5)" >Integrated</text>
<text x="924" y="454.6" font-size="29" fill="#05c2ea" stroke="#05c2ea" stroke-width="0.35" stroke-linejoin="round" textLength="84" lengthAdjust="spacingAndGlyphs" font-weight="normal" >course</text>
<text x="922" y="494" font-size="28" fill="#05c2ea" stroke="#05c2ea" stroke-width="0.35" stroke-linejoin="round" textLength="141" lengthAdjust="spacingAndGlyphs" font-weight="normal" >1. No YouTube</text>
<text x="920" y="542" font-size="28" fill="#05c2ea" stroke="#05c2ea" stroke-width="0.35" stroke-linejoin="round" textLength="155" lengthAdjust="spacingAndGlyphs" font-weight="normal" transform="rotate(-3 920 542)" >2. No Internet</text>
<text x="920" y="583" font-size="26" fill="#05c2ea" stroke="#05c2ea" stroke-width="0.35" stroke-linejoin="round" textLength="182" lengthAdjust="spacingAndGlyphs" font-weight="normal" transform="rotate(-4 920 583)" >3. One Instractor</text>
<text x="915" y="620" font-size="26" fill="#05c2ea" stroke="#05c2ea" stroke-width="0.35" stroke-linejoin="round" textLength="188" lengthAdjust="spacingAndGlyphs" font-weight="normal" transform="rotate(-2 915 620)" >4. Sample Projects</text>
<text x="915" y="665" font-size="30" fill="#05c2ea" stroke="#05c2ea" stroke-width="0.35" stroke-linejoin="round" textLength="148" lengthAdjust="spacingAndGlyphs" font-weight="normal" >5. Practice</text>
<text x="1081" y="658.5" font-size="22" fill="#dc5220" stroke="#dc5220" stroke-width="0.2" stroke-linejoin="round" textLength="68" lengthAdjust="spacingAndGlyphs" font-weight="normal" transform="rotate(6 1081 658.5)" font-style="italic">2h/day</text>
<path d="M948,679.5 L952.5,673.5 L961.5,685.5 L970.5,673.5 L979.5,685.5 L988.5,673.5 L997.5,685.5 L1006.5,673.5 L1015.5,685.5 L1024.5,673.5 L1033.5,685.5 L1042.5,673.5 L1051.5,685.5 L1060.5,673.5 L1068,679" fill="none" stroke="#dc5220" stroke-width="2.4" stroke-linecap="round" stroke-linejoin="round" />
<path d="M948,679.5 L952.5,685.5 L961.5,673.5 L970.5,685.5 L979.5,673.5 L988.5,685.5 L997.5,673.5 L1006.5,685.5 L1015.5,673.5 L1024.5,685.5 L1033.5,673.5 L1042.5,685.5 L1051.5,673.5 L1060.5,685.5 L1068,679" fill="none" stroke="#dc5220" stroke-width="2.4" stroke-linecap="round" stroke-linejoin="round" />
<path d="M1132.5,436 L1136.3,448.5 L1153.3,416.3" fill="none" stroke="#9bc22b" stroke-width="3" stroke-linecap="round" stroke-linejoin="round" />
<path d="M1131.5,487 L1135.6,497.5 L1154.4,463" fill="none" stroke="#9bc22b" stroke-width="3" stroke-linecap="round" stroke-linejoin="round" />
<path d="M1135.6,530.8 L1139.8,540 L1151.3,515.2" fill="none" stroke="#9bc22b" stroke-width="3" stroke-linecap="round" stroke-linejoin="round" />
<text x="1157" y="452" font-size="34" fill="#9bc22b" stroke="#9bc22b" stroke-width="0.35" stroke-linejoin="round" textLength="55" lengthAdjust="spacingAndGlyphs" font-weight="normal" >Job</text>
<text x="1157.5" y="501" font-size="34" fill="#9bc22b" stroke="#9bc22b" stroke-width="0.35" stroke-linejoin="round" textLength="47.0" lengthAdjust="spacingAndGlyphs" font-weight="normal" >Fun</text>
<text x="1159" y="540" font-size="27" fill="#9bc22b" stroke="#9bc22b" stroke-width="0.35" stroke-linejoin="round" textLength="110" lengthAdjust="spacingAndGlyphs" font-weight="normal" >Super Skill</text>
</svg>
</body></html>
